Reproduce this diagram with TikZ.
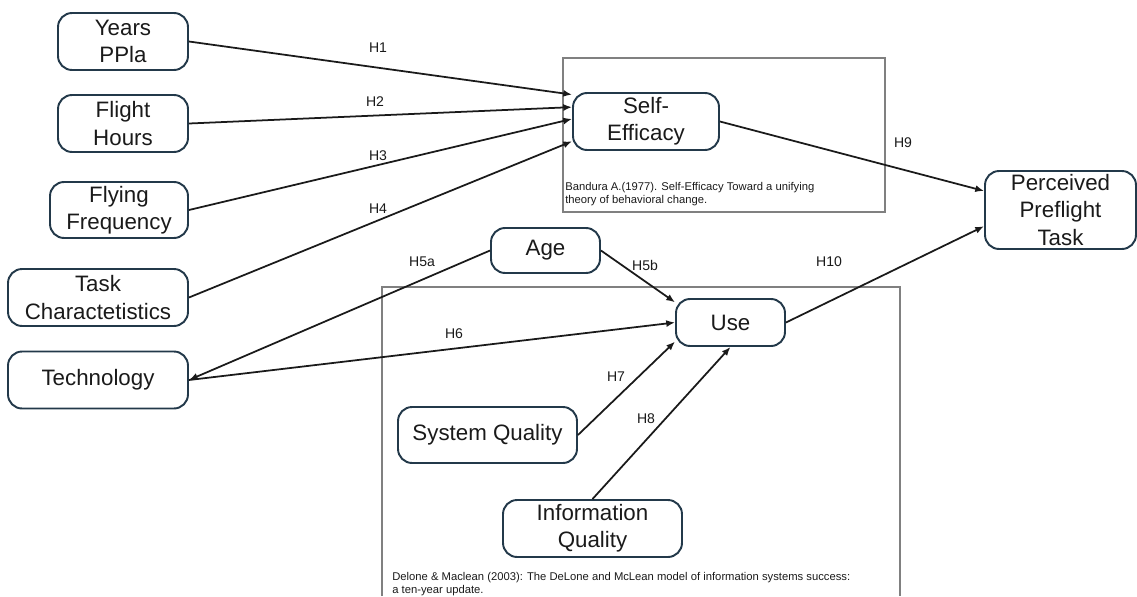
\documentclass[tikz,border=0pt]{standalone}
\usepackage{fontspec}
\setmainfont{Liberation Sans}
\usetikzlibrary{arrows.meta}

\definecolor{boxline}{HTML}{23394A}
\definecolor{framegray}{HTML}{808080}
\definecolor{inkblack}{HTML}{1A1A1A}

\tikzset{
  construct/.style={draw=boxline, line width=1.1pt, rounded corners=8pt,
    align=center, inner sep=0pt, text=inkblack,
    font=\fontsize{12.7}{15.4}\selectfont},
  hyp/.style={text=inkblack, inner sep=0pt, font=\fontsize{8}{9}\selectfont},
  citation/.style={text=inkblack, align=left, anchor=north west, inner sep=0pt,
    font=\fontsize{6.4}{7.4}\selectfont},
  link/.style={-{Latex[length=5pt,width=4pt]}, line width=1pt, draw=inkblack},
  theoryframe/.style={draw=framegray, line width=0.7pt}
}

\begin{document}
\begin{tikzpicture}[x=0.02cm, y=-0.02cm]
\useasboundingbox (0,0) rectangle (1137,596);

% Theory frames
\draw[theoryframe] (563,58) rectangle (885,212);
\draw[theoryframe] (382,596) -- (382,287) -- (900,287) -- (900,596);
\node (bandura) at (565,182) [citation] {Bandura A.(1977). Self-Efficacy Toward a unifying\\theory of behavioral change.};
\node (delone) at (392,572) [citation] {Delone \& Maclean (2003): The DeLone and McLean model of information systems success:\\a ten-year update.};

% Left column
\node (years) at (123,41.5) [construct, minimum width=2.6cm, minimum height=1.14cm] {Years\\PPla};
\node (hours) at (123,123.5) [construct, minimum width=2.6cm, minimum height=1.14cm] {Flight\\Hours};
\node (freq) at (119,210) [construct, minimum width=2.76cm, minimum height=1.12cm] {Flying\\Frequency};
\node (task) at (98,297.5) [construct, minimum width=3.6cm, minimum height=1.14cm] {Task\\Charactetistics};
\node (tech) at (98,380) [construct, minimum width=3.6cm, minimum height=1.14cm] {Technology};

% Middle
\node (selfeff) at (646,121.5) [construct, minimum width=2.92cm, minimum height=1.14cm] {Self-\\Efficacy};
\node (age) at (545.5,250.5) [construct, minimum width=2.18cm, minimum height=0.9cm] {Age};
\node (use) at (730.5,322.5) [construct, minimum width=2.18cm, minimum height=0.94cm] {Use};
\node (sysq) at (487.5,435) [construct, minimum width=3.58cm, minimum height=1.12cm] {System Quality};
\node (infoq) at (592.5,528.5) [construct, minimum width=3.58cm, minimum height=1.14cm] {Information\\Quality};

% Outcome
\node (ppt) at (1060.5,210) [construct, minimum width=3.02cm, minimum height=1.56cm] {Perceived\\Preflight\\Task};

% Hypotheses
\draw[link] (years.east) -- (selfeff.160.7);
\draw[link] (hours.east) -- (selfeff.169.5);
\draw[link] (freq.east) -- (selfeff.178.8);
\draw[link] (task.east) -- (selfeff.195.7);
\draw[link] (age.west) -- (tech.east);
\draw[link] (age.east) -- (use.160);
\draw[link] (tech.east) -- (use.west);
\draw[link] (sysq.east) -- (use.199);
\draw[link] (infoq.north) -- (use.south);
\draw[link] (selfeff.east) -- (ppt.166.5);
\draw[link] (use.east) -- (ppt.192);

\node (h1) at (378,48) [hyp] {H1};
\node (h2) at (375,102) [hyp] {H2};
\node (h3) at (378,156) [hyp] {H3};
\node (h4) at (378,209) [hyp] {H4};
\node (h5a) at (422,262) [hyp] {H5a};
\node (h5b) at (645,265) [hyp] {H5b};
\node (h6) at (454,334) [hyp] {H6};
\node (h7) at (616,377) [hyp] {H7};
\node (h8) at (646,419) [hyp] {H8};
\node (h9) at (903,143) [hyp] {H9};
\node (h10) at (829,262) [hyp] {H10};

\end{tikzpicture}
\end{document}
